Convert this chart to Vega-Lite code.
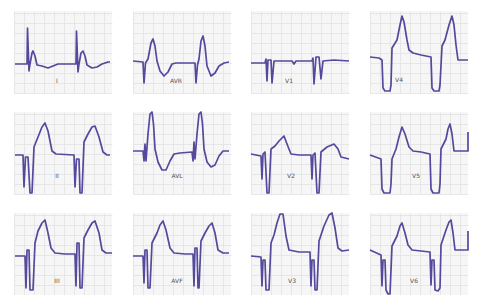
{
  "$schema": "https://vega.github.io/schema/vega-lite/v6.json",
  "padding": {"left": 14, "top": 11, "right": 0, "bottom": 0},
  "autosize": {"type": "pad"},
  "background": "white",
  "datasets": {
    "ecg": [
      {"lead":"I","t":1,"v":29},{"lead":"I","t":13,"v":29},{"lead":"I","t":13.5,"v":65},{"lead":"I","t":15,"v":22},{"lead":"I","t":16,"v":29},{"lead":"I","t":18,"v":40},{"lead":"I","t":19,"v":42},{"lead":"I","t":21,"v":37},{"lead":"I","t":23,"v":28},{"lead":"I","t":28,"v":27},{"lead":"I","t":34,"v":25},{"lead":"I","t":39,"v":27},{"lead":"I","t":44,"v":29},{"lead":"I","t":62,"v":29},{"lead":"I","t":62.5,"v":62},{"lead":"I","t":64,"v":21},{"lead":"I","t":65,"v":29},{"lead":"I","t":67,"v":40},{"lead":"I","t":69,"v":42},{"lead":"I","t":71,"v":37},{"lead":"I","t":73,"v":28},{"lead":"I","t":78,"v":25},{"lead":"I","t":83,"v":26},{"lead":"I","t":88,"v":29},{"lead":"I","t":94,"v":31},{"lead":"I","t":96,"v":31},
      {"lead":"AVR","t":0,"v":32},{"lead":"AVR","t":10,"v":31},{"lead":"AVR","t":11,"v":10},{"lead":"AVR","t":12.5,"v":30},{"lead":"AVR","t":15,"v":34},{"lead":"AVR","t":18,"v":50},{"lead":"AVR","t":20,"v":54},{"lead":"AVR","t":22,"v":47},{"lead":"AVR","t":24,"v":32},{"lead":"AVR","t":27,"v":22},{"lead":"AVR","t":31,"v":17},{"lead":"AVR","t":35,"v":21},{"lead":"AVR","t":39,"v":29},{"lead":"AVR","t":43,"v":30},{"lead":"AVR","t":62,"v":30},{"lead":"AVR","t":63,"v":10},{"lead":"AVR","t":64.5,"v":28},{"lead":"AVR","t":66,"v":34},{"lead":"AVR","t":68,"v":52},{"lead":"AVR","t":70,"v":57},{"lead":"AVR","t":72,"v":47},{"lead":"AVR","t":74,"v":27},{"lead":"AVR","t":78,"v":17},{"lead":"AVR","t":82,"v":20},{"lead":"AVR","t":86,"v":27},{"lead":"AVR","t":91,"v":30},{"lead":"AVR","t":96,"v":31},
      {"lead":"V1","t":0,"v":30},{"lead":"V1","t":14,"v":30},{"lead":"V1","t":15,"v":34},{"lead":"V1","t":16,"v":12},{"lead":"V1","t":17,"v":33},{"lead":"V1","t":20,"v":33},{"lead":"V1","t":21,"v":10},{"lead":"V1","t":23,"v":32},{"lead":"V1","t":33,"v":32},{"lead":"V1","t":41,"v":32},{"lead":"V1","t":43,"v":29},{"lead":"V1","t":45,"v":32},{"lead":"V1","t":61,"v":32},{"lead":"V1","t":62,"v":35},{"lead":"V1","t":63,"v":9},{"lead":"V1","t":65,"v":36},{"lead":"V1","t":68,"v":36},{"lead":"V1","t":70,"v":14},{"lead":"V1","t":72,"v":32},{"lead":"V1","t":83,"v":33},{"lead":"V1","t":98,"v":32},
      {"lead":"V4","t":0,"v":36},{"lead":"V4","t":9,"v":35},{"lead":"V4","t":12,"v":33},{"lead":"V4","t":13,"v":5},{"lead":"V4","t":15,"v":2},{"lead":"V4","t":20,"v":2},{"lead":"V4","t":21,"v":8},{"lead":"V4","t":22,"v":45},{"lead":"V4","t":27,"v":53},{"lead":"V4","t":30,"v":68},{"lead":"V4","t":32,"v":77},{"lead":"V4","t":34,"v":71},{"lead":"V4","t":37,"v":53},{"lead":"V4","t":39,"v":43},{"lead":"V4","t":43,"v":40},{"lead":"V4","t":51,"v":38},{"lead":"V4","t":61,"v":36},{"lead":"V4","t":62,"v":5},{"lead":"V4","t":64,"v":2},{"lead":"V4","t":69,"v":2},{"lead":"V4","t":70,"v":8},{"lead":"V4","t":72,"v":47},{"lead":"V4","t":75,"v":53},{"lead":"V4","t":79,"v":68},{"lead":"V4","t":82,"v":77},{"lead":"V4","t":84,"v":68},{"lead":"V4","t":86,"v":48},{"lead":"V4","t":88,"v":33},{"lead":"V4","t":98,"v":33},
      {"lead":"II","t":1,"v":39},{"lead":"II","t":9,"v":39},{"lead":"II","t":10,"v":7},{"lead":"II","t":11.5,"v":37},{"lead":"II","t":14,"v":37},{"lead":"II","t":16,"v":1},{"lead":"II","t":18,"v":1},{"lead":"II","t":20,"v":47},{"lead":"II","t":24,"v":57},{"lead":"II","t":28,"v":67},{"lead":"II","t":31,"v":71},{"lead":"II","t":34,"v":63},{"lead":"II","t":38,"v":43},{"lead":"II","t":42,"v":40},{"lead":"II","t":60,"v":39},{"lead":"II","t":61,"v":7},{"lead":"II","t":62.5,"v":35},{"lead":"II","t":65,"v":35},{"lead":"II","t":66,"v":1},{"lead":"II","t":68,"v":1},{"lead":"II","t":70,"v":52},{"lead":"II","t":74,"v":60},{"lead":"II","t":78,"v":67},{"lead":"II","t":81,"v":68},{"lead":"II","t":85,"v":57},{"lead":"II","t":89,"v":42},{"lead":"II","t":93,"v":39},{"lead":"II","t":96,"v":39},
      {"lead":"AVL","t":0,"v":43},{"lead":"AVL","t":10,"v":43},{"lead":"AVL","t":11,"v":33},{"lead":"AVL","t":12,"v":50},{"lead":"AVL","t":13,"v":33},{"lead":"AVL","t":15,"v":60},{"lead":"AVL","t":17,"v":80},{"lead":"AVL","t":19,"v":82},{"lead":"AVL","t":20.5,"v":70},{"lead":"AVL","t":22,"v":45},{"lead":"AVL","t":25,"v":32},{"lead":"AVL","t":29,"v":24},{"lead":"AVL","t":33,"v":24},{"lead":"AVL","t":37,"v":33},{"lead":"AVL","t":41,"v":40},{"lead":"AVL","t":47,"v":41},{"lead":"AVL","t":59,"v":42},{"lead":"AVL","t":60,"v":33},{"lead":"AVL","t":61,"v":52},{"lead":"AVL","t":62,"v":35},{"lead":"AVL","t":64,"v":60},{"lead":"AVL","t":66,"v":80},{"lead":"AVL","t":68,"v":82},{"lead":"AVL","t":69.5,"v":70},{"lead":"AVL","t":71,"v":45},{"lead":"AVL","t":74,"v":32},{"lead":"AVL","t":78,"v":27},{"lead":"AVL","t":82,"v":29},{"lead":"AVL","t":86,"v":38},{"lead":"AVL","t":90,"v":43},{"lead":"AVL","t":96,"v":43},
      {"lead":"V2","t":0,"v":40},{"lead":"V2","t":10,"v":38},{"lead":"V2","t":11,"v":15},{"lead":"V2","t":12,"v":40},{"lead":"V2","t":14,"v":42},{"lead":"V2","t":16,"v":1},{"lead":"V2","t":18,"v":1},{"lead":"V2","t":20,"v":45},{"lead":"V2","t":24,"v":48},{"lead":"V2","t":28,"v":53},{"lead":"V2","t":33,"v":58},{"lead":"V2","t":36,"v":50},{"lead":"V2","t":40,"v":40},{"lead":"V2","t":48,"v":39},{"lead":"V2","t":60,"v":39},{"lead":"V2","t":61,"v":15},{"lead":"V2","t":62,"v":39},{"lead":"V2","t":64,"v":41},{"lead":"V2","t":66,"v":1},{"lead":"V2","t":68,"v":1},{"lead":"V2","t":70,"v":42},{"lead":"V2","t":76,"v":47},{"lead":"V2","t":83,"v":50},{"lead":"V2","t":87,"v":45},{"lead":"V2","t":90,"v":37},{"lead":"V2","t":98,"v":35},
      {"lead":"V5","t":0,"v":39},{"lead":"V5","t":11,"v":35},{"lead":"V5","t":12,"v":5},{"lead":"V5","t":14,"v":1},{"lead":"V5","t":20,"v":1},{"lead":"V5","t":21,"v":10},{"lead":"V5","t":22,"v":35},{"lead":"V5","t":26,"v":45},{"lead":"V5","t":29,"v":57},{"lead":"V5","t":32,"v":67},{"lead":"V5","t":35,"v":60},{"lead":"V5","t":39,"v":47},{"lead":"V5","t":43,"v":43},{"lead":"V5","t":51,"v":42},{"lead":"V5","t":60,"v":40},{"lead":"V5","t":61,"v":5},{"lead":"V5","t":63,"v":1},{"lead":"V5","t":69,"v":1},{"lead":"V5","t":70,"v":10},{"lead":"V5","t":71,"v":45},{"lead":"V5","t":76,"v":55},{"lead":"V5","t":78,"v":65},{"lead":"V5","t":80,"v":70},{"lead":"V5","t":82,"v":60},{"lead":"V5","t":84,"v":43},{"lead":"V5","t":94,"v":43},{"lead":"V5","t":98,"v":43},{"lead":"V5","t":98,"v":62},
      {"lead":"III","t":1,"v":39},{"lead":"III","t":11,"v":39},{"lead":"III","t":12,"v":7},{"lead":"III","t":13,"v":45},{"lead":"III","t":15,"v":45},{"lead":"III","t":16,"v":5},{"lead":"III","t":19,"v":5},{"lead":"III","t":21,"v":52},{"lead":"III","t":24,"v":64},{"lead":"III","t":28,"v":72},{"lead":"III","t":31,"v":75},{"lead":"III","t":34,"v":62},{"lead":"III","t":37,"v":47},{"lead":"III","t":41,"v":42},{"lead":"III","t":51,"v":41},{"lead":"III","t":61,"v":41},{"lead":"III","t":62,"v":9},{"lead":"III","t":63,"v":52},{"lead":"III","t":65,"v":52},{"lead":"III","t":66,"v":7},{"lead":"III","t":68,"v":7},{"lead":"III","t":70,"v":57},{"lead":"III","t":74,"v":65},{"lead":"III","t":78,"v":72},{"lead":"III","t":81,"v":74},{"lead":"III","t":85,"v":62},{"lead":"III","t":88,"v":45},{"lead":"III","t":92,"v":42},{"lead":"III","t":98,"v":42},
      {"lead":"AVF","t":0,"v":39},{"lead":"AVF","t":10,"v":39},{"lead":"AVF","t":11,"v":12},{"lead":"AVF","t":12,"v":45},{"lead":"AVF","t":14,"v":45},{"lead":"AVF","t":15,"v":7},{"lead":"AVF","t":17,"v":7},{"lead":"AVF","t":19,"v":52},{"lead":"AVF","t":24,"v":62},{"lead":"AVF","t":27,"v":70},{"lead":"AVF","t":30,"v":74},{"lead":"AVF","t":33,"v":65},{"lead":"AVF","t":37,"v":47},{"lead":"AVF","t":41,"v":42},{"lead":"AVF","t":52,"v":41},{"lead":"AVF","t":60,"v":41},{"lead":"AVF","t":61,"v":9},{"lead":"AVF","t":62,"v":47},{"lead":"AVF","t":64,"v":47},{"lead":"AVF","t":65,"v":7},{"lead":"AVF","t":66,"v":7},{"lead":"AVF","t":68,"v":54},{"lead":"AVF","t":72,"v":62},{"lead":"AVF","t":76,"v":69},{"lead":"AVF","t":79,"v":72},{"lead":"AVF","t":82,"v":62},{"lead":"AVF","t":85,"v":45},{"lead":"AVF","t":90,"v":42},{"lead":"AVF","t":96,"v":42},
      {"lead":"V3","t":0,"v":39},{"lead":"V3","t":10,"v":38},{"lead":"V3","t":11,"v":9},{"lead":"V3","t":12,"v":35},{"lead":"V3","t":14,"v":35},{"lead":"V3","t":15,"v":5},{"lead":"V3","t":18,"v":5},{"lead":"V3","t":20,"v":52},{"lead":"V3","t":23,"v":60},{"lead":"V3","t":26,"v":72},{"lead":"V3","t":29,"v":81},{"lead":"V3","t":32,"v":81},{"lead":"V3","t":35,"v":59},{"lead":"V3","t":38,"v":45},{"lead":"V3","t":48,"v":43},{"lead":"V3","t":59,"v":43},{"lead":"V3","t":60,"v":9},{"lead":"V3","t":61,"v":35},{"lead":"V3","t":63,"v":35},{"lead":"V3","t":64,"v":5},{"lead":"V3","t":66,"v":5},{"lead":"V3","t":68,"v":54},{"lead":"V3","t":73,"v":69},{"lead":"V3","t":78,"v":80},{"lead":"V3","t":81,"v":82},{"lead":"V3","t":84,"v":67},{"lead":"V3","t":87,"v":47},{"lead":"V3","t":91,"v":44},{"lead":"V3","t":98,"v":45},
      {"lead":"V6","t":0,"v":45},{"lead":"V6","t":11,"v":40},{"lead":"V6","t":12,"v":9},{"lead":"V6","t":13,"v":35},{"lead":"V6","t":15,"v":35},{"lead":"V6","t":16,"v":5},{"lead":"V6","t":18,"v":1},{"lead":"V6","t":20,"v":1},{"lead":"V6","t":22,"v":49},{"lead":"V6","t":27,"v":59},{"lead":"V6","t":30,"v":69},{"lead":"V6","t":32,"v":72},{"lead":"V6","t":35,"v":62},{"lead":"V6","t":38,"v":50},{"lead":"V6","t":42,"v":45},{"lead":"V6","t":51,"v":44},{"lead":"V6","t":60,"v":43},{"lead":"V6","t":61,"v":10},{"lead":"V6","t":62,"v":35},{"lead":"V6","t":64,"v":35},{"lead":"V6","t":65,"v":5},{"lead":"V6","t":68,"v":4},{"lead":"V6","t":70,"v":7},{"lead":"V6","t":71,"v":50},{"lead":"V6","t":76,"v":65},{"lead":"V6","t":79,"v":73},{"lead":"V6","t":81,"v":75},{"lead":"V6","t":83,"v":62},{"lead":"V6","t":85,"v":45},{"lead":"V6","t":94,"v":45},{"lead":"V6","t":98,"v":45},{"lead":"V6","t":98,"v":64},
      {"lead":"I","t":43,"v":12,"label":"I"},{"lead":"AVR","t":43,"v":12,"label":"AVR"},{"lead":"V1","t":38,"v":12,"label":"V1"},{"lead":"V4","t":29,"v":13,"label":"V4"},
      {"lead":"II","t":43,"v":18,"label":"II"},{"lead":"AVL","t":44,"v":18,"label":"AVL"},{"lead":"V2","t":40,"v":18,"label":"V2"},{"lead":"V5","t":46,"v":18,"label":"V5"},
      {"lead":"III","t":43,"v":14,"label":"III"},{"lead":"AVF","t":44,"v":14,"label":"AVF"},{"lead":"V3","t":41,"v":14,"label":"V3"},{"lead":"V6","t":44,"v":14,"label":"V6"}
    ]
  },
  "data": {"name": "ecg"},
  "columns": 4,
  "spacing": {"row": 18, "column": 19},
  "concat": [
    {"transform":[{"filter":"datum.lead==='I'"}],"layer":[{"transform":[{"filter":"!datum.label"}],"mark":"line","encoding":{"x":{"field":"t","type":"quantitative","scale":{"domain":[0,98],"nice":false}},"y":{"field":"v","type":"quantitative","scale":{"domain":[0,82],"nice":false}},"order":{"value":null}}},{"transform":[{"filter":"datum.label"}],"mark":"text","encoding":{"x":{"field":"t","type":"quantitative"},"y":{"field":"v","type":"quantitative"},"text":{"field":"label"}}}]},
    {"transform":[{"filter":"datum.lead==='AVR'"}],"layer":[{"transform":[{"filter":"!datum.label"}],"mark":"line","encoding":{"x":{"field":"t","type":"quantitative","scale":{"domain":[0,98],"nice":false}},"y":{"field":"v","type":"quantitative","scale":{"domain":[0,82],"nice":false}},"order":{"value":null}}},{"transform":[{"filter":"datum.label"}],"mark":"text","encoding":{"x":{"field":"t","type":"quantitative"},"y":{"field":"v","type":"quantitative"},"text":{"field":"label"}}}]},
    {"transform":[{"filter":"datum.lead==='V1'"}],"layer":[{"transform":[{"filter":"!datum.label"}],"mark":"line","encoding":{"x":{"field":"t","type":"quantitative","scale":{"domain":[0,98],"nice":false}},"y":{"field":"v","type":"quantitative","scale":{"domain":[0,82],"nice":false}},"order":{"value":null}}},{"transform":[{"filter":"datum.label"}],"mark":"text","encoding":{"x":{"field":"t","type":"quantitative"},"y":{"field":"v","type":"quantitative"},"text":{"field":"label"}}}]},
    {"transform":[{"filter":"datum.lead==='V4'"}],"layer":[{"transform":[{"filter":"!datum.label"}],"mark":"line","encoding":{"x":{"field":"t","type":"quantitative","scale":{"domain":[0,98],"nice":false}},"y":{"field":"v","type":"quantitative","scale":{"domain":[0,82],"nice":false}},"order":{"value":null}}},{"transform":[{"filter":"datum.label"}],"mark":"text","encoding":{"x":{"field":"t","type":"quantitative"},"y":{"field":"v","type":"quantitative"},"text":{"field":"label"}}}]},
    {"transform":[{"filter":"datum.lead==='II'"}],"layer":[{"transform":[{"filter":"!datum.label"}],"mark":"line","encoding":{"x":{"field":"t","type":"quantitative","scale":{"domain":[0,98],"nice":false}},"y":{"field":"v","type":"quantitative","scale":{"domain":[0,82],"nice":false}},"order":{"value":null}}},{"transform":[{"filter":"datum.label"}],"mark":"text","encoding":{"x":{"field":"t","type":"quantitative"},"y":{"field":"v","type":"quantitative"},"text":{"field":"label"}}}]},
    {"transform":[{"filter":"datum.lead==='AVL'"}],"layer":[{"transform":[{"filter":"!datum.label"}],"mark":"line","encoding":{"x":{"field":"t","type":"quantitative","scale":{"domain":[0,98],"nice":false}},"y":{"field":"v","type":"quantitative","scale":{"domain":[0,82],"nice":false}},"order":{"value":null}}},{"transform":[{"filter":"datum.label"}],"mark":"text","encoding":{"x":{"field":"t","type":"quantitative"},"y":{"field":"v","type":"quantitative"},"text":{"field":"label"}}}]},
    {"transform":[{"filter":"datum.lead==='V2'"}],"layer":[{"transform":[{"filter":"!datum.label"}],"mark":"line","encoding":{"x":{"field":"t","type":"quantitative","scale":{"domain":[0,98],"nice":false}},"y":{"field":"v","type":"quantitative","scale":{"domain":[0,82],"nice":false}},"order":{"value":null}}},{"transform":[{"filter":"datum.label"}],"mark":"text","encoding":{"x":{"field":"t","type":"quantitative"},"y":{"field":"v","type":"quantitative"},"text":{"field":"label"}}}]},
    {"transform":[{"filter":"datum.lead==='V5'"}],"layer":[{"transform":[{"filter":"!datum.label"}],"mark":"line","encoding":{"x":{"field":"t","type":"quantitative","scale":{"domain":[0,98],"nice":false}},"y":{"field":"v","type":"quantitative","scale":{"domain":[0,82],"nice":false}},"order":{"value":null}}},{"transform":[{"filter":"datum.label"}],"mark":"text","encoding":{"x":{"field":"t","type":"quantitative"},"y":{"field":"v","type":"quantitative"},"text":{"field":"label"}}}]},
    {"transform":[{"filter":"datum.lead==='III'"}],"layer":[{"transform":[{"filter":"!datum.label"}],"mark":"line","encoding":{"x":{"field":"t","type":"quantitative","scale":{"domain":[0,98],"nice":false}},"y":{"field":"v","type":"quantitative","scale":{"domain":[0,82],"nice":false}},"order":{"value":null}}},{"transform":[{"filter":"datum.label"}],"mark":"text","encoding":{"x":{"field":"t","type":"quantitative"},"y":{"field":"v","type":"quantitative"},"text":{"field":"label"}}}]},
    {"transform":[{"filter":"datum.lead==='AVF'"}],"layer":[{"transform":[{"filter":"!datum.label"}],"mark":"line","encoding":{"x":{"field":"t","type":"quantitative","scale":{"domain":[0,98],"nice":false}},"y":{"field":"v","type":"quantitative","scale":{"domain":[0,82],"nice":false}},"order":{"value":null}}},{"transform":[{"filter":"datum.label"}],"mark":"text","encoding":{"x":{"field":"t","type":"quantitative"},"y":{"field":"v","type":"quantitative"},"text":{"field":"label"}}}]},
    {"transform":[{"filter":"datum.lead==='V3'"}],"layer":[{"transform":[{"filter":"!datum.label"}],"mark":"line","encoding":{"x":{"field":"t","type":"quantitative","scale":{"domain":[0,98],"nice":false}},"y":{"field":"v","type":"quantitative","scale":{"domain":[0,82],"nice":false}},"order":{"value":null}}},{"transform":[{"filter":"datum.label"}],"mark":"text","encoding":{"x":{"field":"t","type":"quantitative"},"y":{"field":"v","type":"quantitative"},"text":{"field":"label"}}}]},
    {"transform":[{"filter":"datum.lead==='V6'"}],"layer":[{"transform":[{"filter":"!datum.label"}],"mark":"line","encoding":{"x":{"field":"t","type":"quantitative","scale":{"domain":[0,98],"nice":false}},"y":{"field":"v","type":"quantitative","scale":{"domain":[0,82],"nice":false}},"order":{"value":null}}},{"transform":[{"filter":"datum.label"}],"mark":"text","encoding":{"x":{"field":"t","type":"quantitative"},"y":{"field":"v","type":"quantitative"},"text":{"field":"label"}}}]}
  ],
  "config": {
    "view": {"continuousWidth": 98, "continuousHeight": 82, "fill": "#f6f6f6", "stroke": null},
    "line": {"color": "#54499c", "strokeWidth": 1.7, "strokeJoin": "round", "clip": true},
    "text": {"fontSize": 6, "fill": "#555555", "font": "DejaVu Sans"},
    "axis": {"labels": false, "ticks": false, "domain": false, "title": null, "grid": true, "gridColor": "#e2e2e2", "gridWidth": 0.8, "minExtent": 0, "maxExtent": 0},
    "axisX": {"tickCount": 10},
    "axisY": {"tickCount": 8}
  }
}
